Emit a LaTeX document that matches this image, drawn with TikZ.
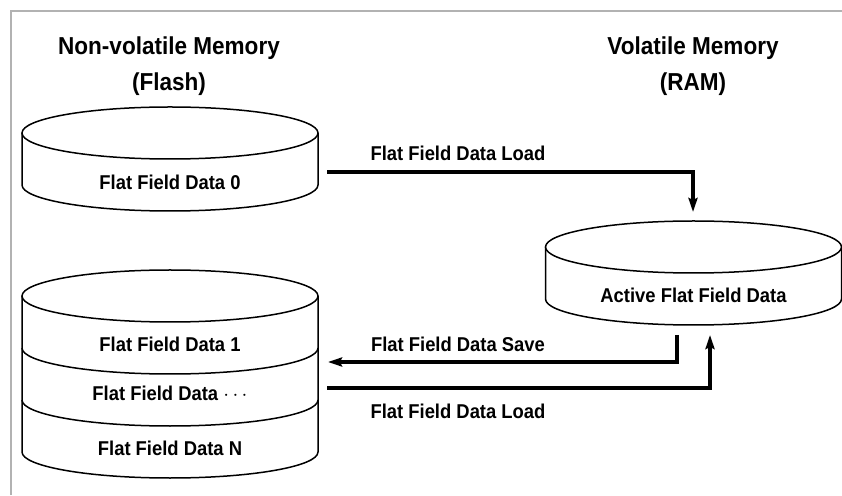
\documentclass[tikz,border=0pt]{standalone}
\usepackage{fontspec}
\setmainfont{Liberation Sans}[FakeStretch=0.92]
\usepackage{tikz}
\usetikzlibrary{arrows.meta}
\def\disk(#1,#2)#3{\draw[disk] (#1-148,#2) -- ++(0,-#3) arc[start angle=180,end angle=360,x radius=148,y radius=26] -- ++(0,#3);
	\draw[disk] (#1,#2) ellipse[x radius=148,y radius=26];}
\tikzset{
	disk/.style={line width=1.5pt, fill=white},
	head/.style={anchor=base, align=center, font=\bfseries\fontsize{24.5}{36}\selectfont},
	lbl/.style={anchor=base, font=\bfseries\fontsize{20}{24}\selectfont},
	flow/.style={line width=3.5pt, -{Stealth[length=14pt,width=9pt,inset=2pt]}}
}

\begin{document}
\begin{tikzpicture}[x=1pt,y=1pt]
			%%%%% START %%%%%
			\useasboundingbox (0,0) rectangle (842,495);
			\draw[line width=2pt, color=black!30] (11,0) -- (11,484) -- (842,484);
			
			\node[head] (nvm) at (169,404) {Non-volatile Memory\\(Flash)};
			\node[head] (vm) at (693,404) {Volatile Memory\\(RAM)};
			
			\disk(170,362){52}
			\node[lbl] (ff0) at (170,305) {Flat Field Data 0};
			
			\disk(170,199){156}
			\foreach \y in {147,95}
				\draw[disk, fill=none] (22,\y) arc[start angle=180,end angle=360,x radius=148,y radius=26];
			\node[lbl] (ff1) at (170,143) {Flat Field Data 1};
			\node[lbl] (ffd) at (170,95) {Flat Field Data \ensuremath{\cdots}};
			\node[lbl] (ffn) at (170,40) {Flat Field Data N};
			
			\disk(693.5,248){52}
			\node[lbl] (act) at (693.5,192) {Active Flat Field Data};
			
			\coordinate (f0out) at (327,323);
			\coordinate (ramin) at (693,283);
			\coordinate (ramout) at (677,160);
			\coordinate (ramback) at (710,160);
			\coordinate (fnin) at (328,133);
			\coordinate (fnout) at (327,107);
			
			\draw[flow] (f0out) -| (ramin);
			\draw[flow] (ramout) |- (fnin);
			\draw[flow] (fnout) -| (ramback);
			
			\node[lbl] (load1) at (458,334) {Flat Field Data Load};
			\node[lbl] (save) at (458,143) {Flat Field Data Save};
			\node[lbl] (load2) at (458,77) {Flat Field Data Load};
			%%%%% END %%%%%
\end{tikzpicture}
\end{document}
